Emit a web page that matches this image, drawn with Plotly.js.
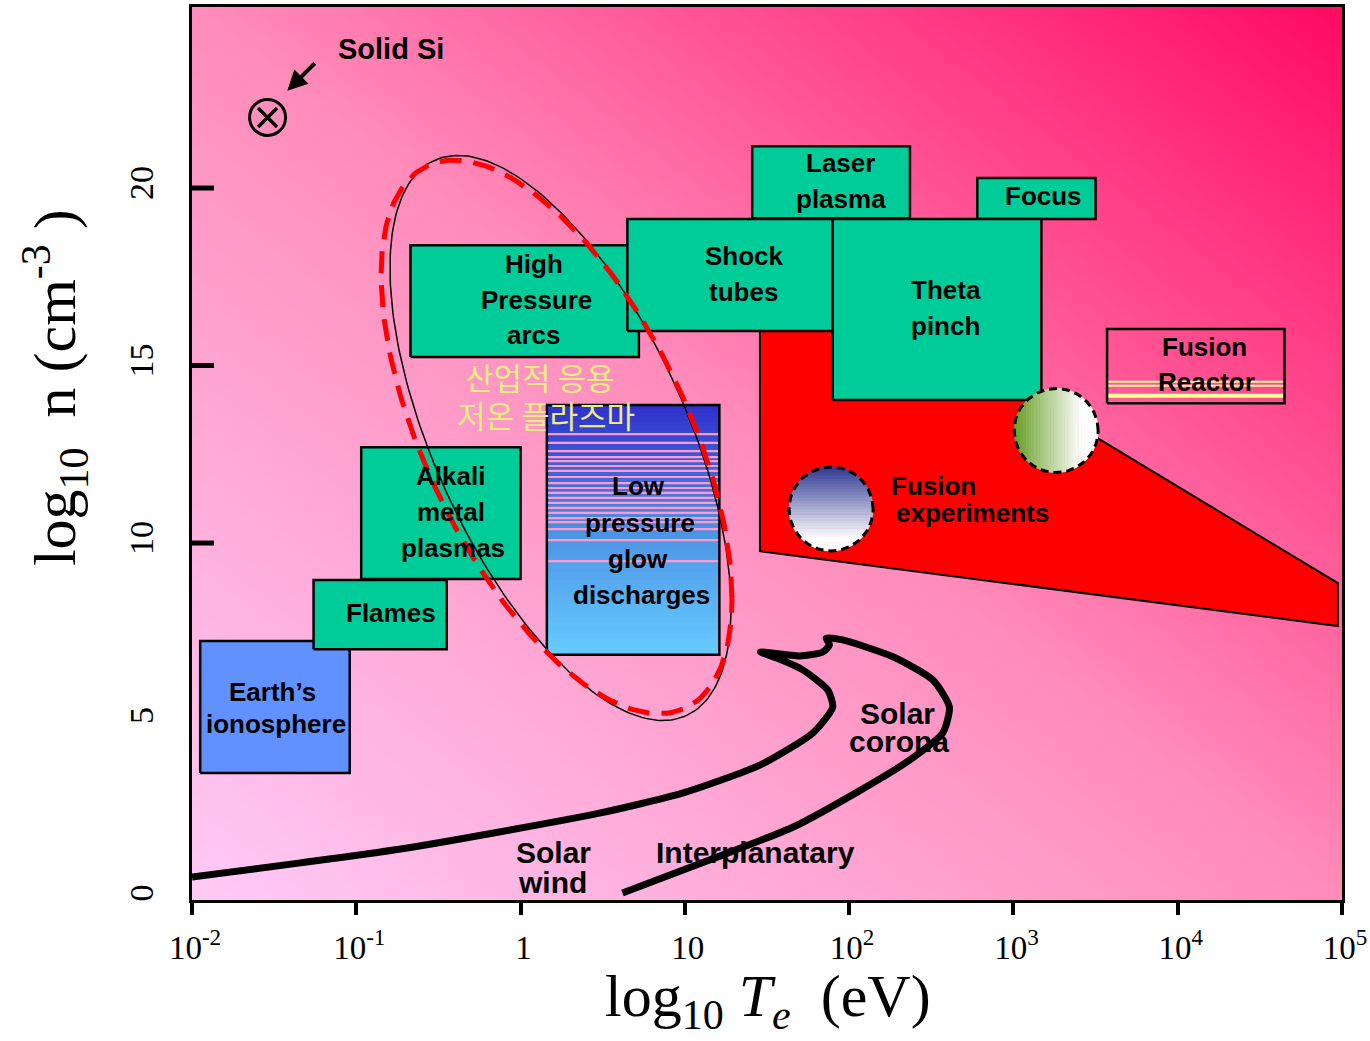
<!DOCTYPE html>
<html><head><meta charset="utf-8">
<script src="https://cdn.plot.ly/plotly-3.0.1.min.js"></script>
<style>html,body{margin:0;padding:0;background:#fff}#chart{width:1370px;height:1041px}</style>
</head><body><div id="chart"></div>
<script>
// ===== DATA  (x = log10 Te [eV], y = log10 n [cm^-3]) =====
const regionNames = ["Earth’s ionosphere","Flames","Alkali metal plasmas","High Pressure arcs","Shock tubes","Laser plasma","Focus","Theta pinch"];
const regionTeMin = [-1.95,-1.26,-0.97,-0.67,0.65,1.41,2.78,1.90];
const regionTeMax = [-1.04,-0.45, 0.00, 0.72,1.90,2.37,3.50,3.17];
const regionNMin  = [ 3.52, 7.01, 8.99,15.24,15.97,19.15,19.13,14.03];
const regionNMax  = [ 7.24, 8.96,12.70,18.39,19.13,21.18,20.28,19.13];

const glowTe = [0.16, 1.21];          // Low pressure glow discharges
const glowN  = [6.85, 13.89];
const glowStripeN = [13.07,12.82,12.59,12.42,12.31,12.17,12.03,11.86,11.69,11.55,11.41,11.27,11.13,10.99,10.85,10.70,10.59,10.39,10.08,9.49];

const reactorTe = [3.57, 4.65];       // Fusion Reactor
const reactorN  = [13.94, 16.03];
const reactorStripeN = [14.54, 14.43, 14.15];

const fusionExpTe = [1.457, 3.13, 3.13, 3.50, 4.975, 4.975, 1.457];
const fusionExpN  = [15.97, 15.97, 14.03, 12.99, 8.87, 7.66, 9.77];

const fusionSpotTe = [1.89, 3.26];
const fusionSpotN  = [10.96, 13.17];

const solarTe = [-2.00,-1.34,-0.73,-0.13,0.48,0.99,1.46,1.78,1.90,1.87,1.72,1.56,1.46,1.70,1.84,1.88,1.86,1.96,2.27,2.51,2.61,2.57,2.37,2.07,1.66,1.15,0.62];
const solarN  = [0.59,0.99,1.38,1.86,2.39,2.96,3.75,4.65,5.38,5.86,6.42,6.76,6.93,6.82,6.93,7.13,7.32,7.27,6.79,6.14,5.38,4.65,3.89,3.04,2.00,1.07,0.14];

const solidSiTe = [-1.54];
const solidSiN  = [21.99];

// low-temperature industrial plasma region (tilted ellipse): centre, half-extents, tilt correlation
const lowTempOuter = {te:0.243, n:12.96, wTe:1.038, hN:7.958, rho:-0.601};
const lowTempDashed = {te:0.219, n:12.99, wTe:1.068, hN:7.80, rho:-0.584};

const xTickVals = [-2,-1,0,1,2,3,4,5];
const xTickText = ['10<sup>-2</sup>','10<sup>-1</sup>','1','10','10<sup>2</sup>','10<sup>3</sup>','10<sup>4</sup>','10<sup>5</sup>'];
const yTickVals = [0,5,10,15,20];
const yTickText = ['0','5','10','15','20'];
const yTickMarks = [10,15,20];

// ===== LAYOUT GEOMETRY =====
const W=1370, H=1041, M={l:192,r:28,t:7,b:141};
const xRange=[-2,5], yRange=[-0.056,25.1];
const kx=(W-M.l-M.r)/(xRange[1]-xRange[0]);
const ky=(H-M.t-M.b)/(yRange[1]-yRange[0]);

const GREEN='#00cc99', BLUE='#6190ff';
const traces=[];
const base={type:'scatter',hoverinfo:'skip',showlegend:false};

// background gradient
traces.push({type:'heatmap',x:xRange,y:yRange,z:[[0,0.5],[0.5,1]],zsmooth:'best',
  colorscale:[[0,'#ffcaf7'],[0.5,'#ff8cba'],[1,'#ff0a62']],showscale:false,hoverinfo:'skip',zmin:0,zmax:1});

// glow discharge gradient
(function(){
  const n=60, yEdges=[], z=[];
  for(let i=0;i<=n;i++) yEdges.push(glowN[0]+(glowN[1]-glowN[0])*i/n);
  for(let i=0;i<n;i++) z.push([(i+0.5)/n]);
  traces.push({type:'heatmap',x:glowTe,y:yEdges,z:z,zsmooth:false,
    colorscale:[[0,'#66ccff'],[0.5,'#4c92e4'],[1,'#3030cc']],showscale:false,hoverinfo:'skip',zmin:0,zmax:1});
})();

// solar wind / corona path
traces.push(Object.assign({},base,{mode:'lines',x:solarTe,y:solarN,line:{color:'black',width:7,shape:'spline',smoothing:0.6}}));

// fusion experiments region
traces.push(Object.assign({},base,{mode:'lines',x:fusionExpTe.concat([fusionExpTe[0]]),y:fusionExpN.concat([fusionExpN[0]]),
  fill:'toself',fillcolor:'#ff0000',line:{color:'black',width:2}}));

function rectXY(x0,x1,y0,y1){return {x:[x0,x1,x1,x0,x0],y:[y0,y0,y1,y1,y0]};}

// regions
regionNames.forEach((nm,i)=>{
  const r=rectXY(regionTeMin[i],regionTeMax[i],regionNMin[i],regionNMax[i]);
  traces.push(Object.assign({},base,{mode:'lines',x:r.x,y:r.y,fill:'toself',
    fillcolor:i===0?BLUE:GREEN,line:{color:'black',width:2.5}}));
});

// glow stripes + outline
(function(){
  const xs=[],ys=[];
  glowStripeN.forEach(v=>{xs.push(glowTe[0],glowTe[1],null);ys.push(v,v,null);});
  traces.push(Object.assign({},base,{mode:'lines',x:xs,y:ys,line:{color:'#ff9acb',width:2.2}}));
  const r=rectXY(glowTe[0],glowTe[1],glowN[0],glowN[1]);
  traces.push(Object.assign({},base,{mode:'lines',x:r.x,y:r.y,line:{color:'black',width:2.5}}));
})();

// fusion reactor
(function(){
  const widths=[2,2,4];
  reactorStripeN.forEach((v,i)=>{
    traces.push(Object.assign({},base,{mode:'lines',x:reactorTe,y:[v,v],line:{color:'#ffff99',width:widths[i]}}));
  });
  const r=rectXY(reactorTe[0],reactorTe[1],reactorN[0],reactorN[1]);
  traces.push(Object.assign({},base,{mode:'lines',x:r.x,y:r.y,line:{color:'black',width:2.5}}));
})();

// gradient spots
function mix(c0,t){return 'rgb('+c0.map(c=>Math.round(c+(255-c)*t)).join(',')+')';}
function spot(cx,cy,rPx,vertical,c0,tWhite){
  const n=30;
  for(let i=0;i<n;i++){
    const a=-rPx+2*rPx*i/n, b=-rPx+2*rPx*(i+1)/n+0.3;
    const us=[]; for(let j=0;j<=6;j++) us.push(Math.min(rPx,a+(b-a)*j/6));
    const pts=[];
    us.forEach(u=>pts.push([u,-Math.sqrt(Math.max(0,rPx*rPx-u*u))]));
    us.slice().reverse().forEach(u=>pts.push([u,Math.sqrt(Math.max(0,rPx*rPx-u*u))]));
    const xs=pts.map(p=>cx+(vertical?p[1]:p[0])/kx);
    const ys=pts.map(p=>cy-(vertical?p[0]:p[1])/ky);
    const col=mix(c0,Math.min(1,((i+0.5)/n)/tWhite));
    traces.push(Object.assign({},base,{mode:'lines',x:xs,y:ys,fill:'toself',fillcolor:col,line:{color:col,width:0.8}}));
  }
  const ox=[],oy=[];
  for(let k=0;k<=96;k++){const t=2*Math.PI*k/96;ox.push(cx+rPx*Math.cos(t)/kx);oy.push(cy+rPx*Math.sin(t)/ky);}
  traces.push(Object.assign({},base,{mode:'lines',x:ox,y:oy,line:{color:'black',width:3,dash:'8px,5px'}}));
}
spot(fusionSpotTe[0],fusionSpotN[0],42,true,[43,58,148],0.85);
spot(fusionSpotTe[1],fusionSpotN[1],42,false,[102,160,40],0.8);

// ellipses
function ell(e){const xs=[],ys=[];const s=Math.sqrt(1-e.rho*e.rho);
  for(let i=0;i<=240;i++){const t=2*Math.PI*i/240;xs.push(e.te+e.wTe*Math.cos(t));ys.push(e.n+e.hN*(e.rho*Math.cos(t)+s*Math.sin(t)));}
  return {xs,ys};}
const eo=ell(lowTempOuter), ed=ell(lowTempDashed);
traces.push(Object.assign({},base,{mode:'lines',x:eo.xs,y:eo.ys,line:{color:'black',width:1.5}}));
traces.push(Object.assign({},base,{mode:'lines',x:ed.xs,y:ed.ys,line:{color:'#ff0000',width:5,dash:'22px,12px'}}));

// solid Si
traces.push(Object.assign({},base,{mode:'markers',x:solidSiTe,y:solidSiN,marker:{symbol:'circle-open',size:36,color:'black',line:{width:3,color:'black'}}}));
traces.push(Object.assign({},base,{mode:'markers',x:solidSiTe,y:solidSiN,marker:{symbol:'x-thin-open',size:19,color:'black',line:{width:3.5,color:'black'}}}));

// ===== LABELS =====
const LF='Liberation Sans, Arial, sans-serif';
const labels=[
 ['Solid Si',-0.789,23.92,29],
 ['High',0.082,17.86,26],['Pressure',0.094,16.85,26],['arcs',0.082,15.86,26],
 ['Shock',1.366,18.08,26],['tubes',1.354,17.07,26],
 ['Laser',1.950,20.70,26],['plasma',1.950,19.69,26],
 ['Focus',3.180,19.77,26],
 ['Theta',2.589,17.13,26],['pinch',2.589,16.11,26],
 ['Fusion',4.166,15.52,26],['Reactor',4.178,14.54,26],
 ['Alkali',-0.424,11.89,26],['metal',-0.424,10.87,26],['plasmas',-0.411,9.86,26],
 ['Flames',-0.789,8.03,26],
 ['Earth’s',-1.513,5.80,26],['ionosphere',-1.489,4.90,26],
 ['Low',0.715,11.61,26],['pressure',0.727,10.56,26],['glow',0.715,9.55,26],['discharges',0.739,8.54,26],
 ['Solar',2.297,5.21,30],['corona',2.303,4.42,30],
 ['Solar',0.203,1.27,30],['wind',0.197,0.45,30],
 ['Interplanatary',1.427,1.27,30]
];
const annotations=labels.map(l=>({x:l[1],y:l[2],xref:'x',yref:'y',text:'<b>'+l[0]+'</b>',showarrow:false,
  font:{family:LF,size:l[3],color:'black'},xanchor:'center',yanchor:'middle'}));
annotations.push({x:2.2425,y:11.61,xref:'x',yref:'y',text:'<b>Fusion</b>',showarrow:false,font:{family:LF,size:26,color:'black'},xanchor:'left',yanchor:'middle'});
annotations.push({x:2.2756,y:10.85,xref:'x',yref:'y',text:'<b>experiments</b>',showarrow:false,font:{family:LF,size:26,color:'black'},xanchor:'left',yanchor:'middle'});
annotations.push({x:0.118,y:14.68,xref:'x',yref:'y',text:'산업적 응용',showarrow:false,font:{family:'Noto Sans CJK KR',size:31,color:'#ecec85'},xanchor:'center',yanchor:'middle'});
annotations.push({x:0.155,y:13.61,xref:'x',yref:'y',text:'저온 플라즈마',showarrow:false,font:{family:'Noto Sans CJK KR',size:31,color:'#ecec85'},xanchor:'center',yanchor:'middle'});
// arrow to Solid Si
annotations.push({x:-1.42,y:22.74,xref:'x',yref:'y',text:'',showarrow:true,arrowhead:2,arrowsize:1,arrowwidth:4,arrowcolor:'black',ax:29,ay:-29});
// axis titles
const SF='Liberation Serif, Times New Roman, serif';
annotations.push({xref:'paper',yref:'paper',x:0.5009,y:-0.112,text:'log<sub>10</sub> <i>T</i><sub><i>e</i></sub>\u00a0\u00a0(eV)',showarrow:false,
  font:{family:SF,size:60,color:'black'},xanchor:'center',yanchor:'middle'});
annotations.push({xref:'paper',yref:'paper',x:-0.119,y:0.5734,text:'log<sub>10</sub>\u00a0\u00a0n\u00a0(cm<sup>-3</sup>\u00a0)',showarrow:false,textangle:-90,
  font:{family:SF,size:60,color:'black'},xanchor:'center',yanchor:'middle'});

const shapes=yTickMarks.map(v=>({type:'line',xref:'paper',yref:'y',x0:0,x1:22/(W-M.l-M.r),y0:v,y1:v,line:{color:'black',width:5}}));

const layout={
  width:W,height:H,margin:M,paper_bgcolor:'#ffffff',plot_bgcolor:'#ffc8f5',showlegend:false,
  xaxis:{range:xRange,tickvals:xTickVals,ticktext:xTickText,ticks:'outside',ticklen:12,tickwidth:4,tickcolor:'black',
    showline:true,mirror:true,linewidth:3,linecolor:'black',showgrid:false,zeroline:false,
    tickfont:{family:SF,size:33,color:'black'},ticklabelshift:3,ticklabelstandoff:4,ticklabeloverflow:'allow',fixedrange:true},
  yaxis:{range:yRange,tickvals:yTickVals,ticktext:yTickText,ticks:'',tickangle:-90,
    showline:true,mirror:true,linewidth:3,linecolor:'black',showgrid:false,zeroline:false,
    tickfont:{family:SF,size:34,color:'black'},ticklabelstandoff:22,fixedrange:true},
  annotations:annotations,shapes:shapes
};
Plotly.newPlot('chart',traces,layout,{staticPlot:true,displayModeBar:false});
</script></body></html>
